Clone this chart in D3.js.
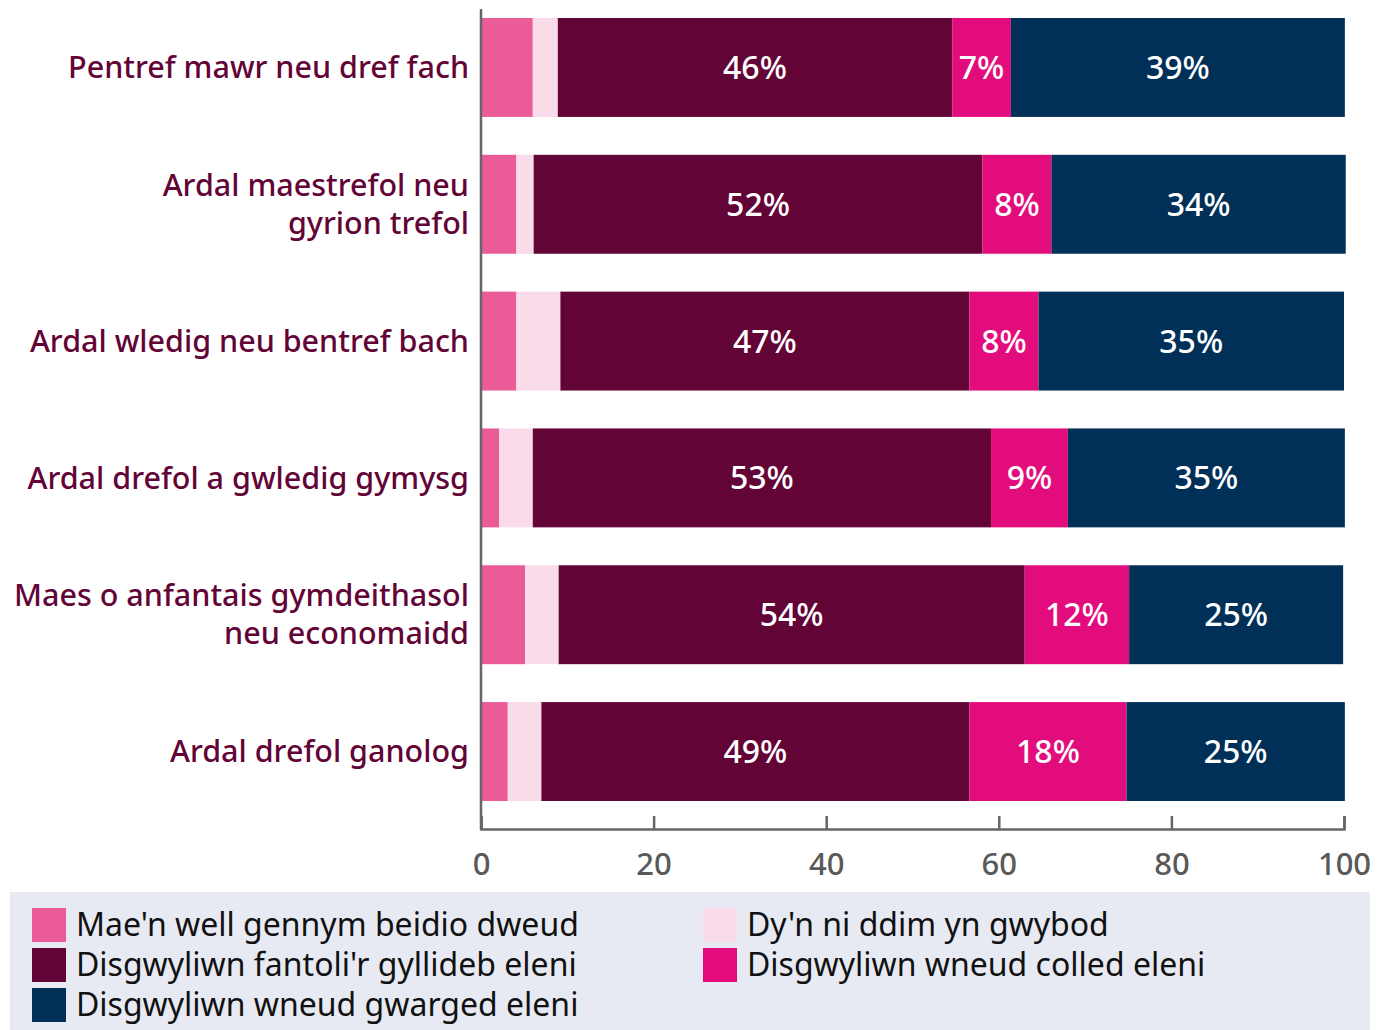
<!DOCTYPE html>
<html lang="cy">
<head>
	<meta charset="utf-8">
	<title>Disgwyliadau cyllideb yn ôl math o ardal</title>
	<script src="https://d3js.org/d3.v7.min.js"></script>
	<style>
		body { margin: 0; background: #fff; }
		text { font-family: "Noto Sans", sans-serif; }
	</style>
</head>
<body>
<div id="chart"></div>
<script>
	// Categories (top to bottom)
	var categories = [
		["Pentref mawr neu dref fach"],
		["Ardal maestrefol neu", "gyrion trefol"],
		["Ardal wledig neu bentref bach"],
		["Ardal drefol a gwledig gymysg"],
		["Maes o anfantais gymdeithasol", "neu economaidd"],
		["Ardal drefol ganolog"]
	];

	// Series values (%)
	var preferNot = [6.0, 4.1, 4.1, 2.1, 5.1, 3.1];
	var dontKnow  = [2.9, 2.0, 5.1, 3.9, 3.9, 3.9];
	var balance   = [45.7, 52.0, 47.4, 53.1, 54.0, 49.6];
	var deficit   = [6.8, 8.0, 8.0, 8.9, 12.1, 18.2];
	var surplus   = [38.7, 34.1, 35.4, 32.1, 24.8, 25.3];

	// Labels printed inside the bars
	var balanceLabels = ["46%", "52%", "47%", "53%", "54%", "49%"];
	var deficitLabels = ["7%", "8%", "8%", "9%", "12%", "18%"];
	var surplusLabels = ["39%", "34%", "35%", "35%", "25%", "25%"];

	var seriesNames = [
		"Mae'n well gennym beidio dweud",
		"Dy'n ni ddim yn gwybod",
		"Disgwyliwn fantoli'r gyllideb eleni",
		"Disgwyliwn wneud colled eleni",
		"Disgwyliwn wneud gwarged eleni"
	];
	var colors = ["#ea5b98", "#f9dbe9", "#630436", "#e30c7d", "#003057"];

	var xTicks = [0, 20, 40, 60, 80, 100];

	var w = 1383, h = 1030;

	var series = [preferNot, dontKnow, balance, deficit, surplus];
	var labels = [null, null, balanceLabels, deficitLabels, surplusLabels];

	var rows = categories.map(function(c, i) {
		var o = { i: i };
		series.forEach(function(s, k) { o["s" + k] = s[i]; });
		return o;
	});
	var keys = series.map(function(s, k) { return "s" + k; });
	var stacked = d3.stack().keys(keys)(rows);

	var x = d3.scaleLinear().domain([0, 100]).range([481, 1344]);
	var y = d3.scaleBand()
		.domain(d3.range(categories.length))
		.range([18, 801])
		.paddingInner(0.277)
		.paddingOuter(0);

	var svg = d3.select("#chart").append("svg")
		.attr("width", w)
		.attr("height", h);

	// bars
	var layer = svg.selectAll("g.layer")
		.data(stacked)
		.enter().append("g")
		.attr("class", "layer")
		.attr("fill", function(d, k) { return colors[k]; });

	layer.selectAll("rect")
		.data(function(d) { return d; })
		.enter().append("rect")
		.attr("x", function(d) { return x(d[0]); })
		.attr("y", function(d) { return y(d.data.i); })
		.attr("width", function(d) { return x(d[1]) - x(d[0]); })
		.attr("height", y.bandwidth());

	// labels inside bars
	layer.filter(function(d, k) { return labels[k]; })
		.selectAll("text")
		.data(function(d) {
			return d.map(function(v, i) { return { v: v, t: labels[d.index][i] }; });
		})
		.enter().append("text")
		.attr("x", function(d) { return (x(d.v[0]) + x(d.v[1])) / 2; })
		.attr("y", function(d) { return y(d.v.data.i) + y.bandwidth() / 2; })
		.attr("dy", "0.36em")
		.attr("text-anchor", "middle")
		.attr("fill", "#fff")
		.attr("font-size", "32px")
		.attr("font-weight", 500)
		.text(function(d) { return d.t; });

	// category labels
	var cat = svg.selectAll("text.cat")
		.data(categories)
		.enter().append("text")
		.attr("class", "cat")
		.attr("text-anchor", "end")
		.attr("fill", "#630436")
		.attr("font-size", "30.5px")
		.attr("font-weight", 500)
		.attr("transform", function(d, i) {
			var cy = y(i) + y.bandwidth() / 2 - (d.length - 1) * 19;
			return "translate(469," + cy + ")";
		});
	cat.selectAll("tspan")
		.data(function(d) { return d; })
		.enter().append("tspan")
		.attr("x", 0)
		.attr("y", function(d, j) { return j * 38; })
		.attr("dy", "0.35em")
		.text(function(d) { return d; });

	// x axis
	var xAxis = svg.append("g")
		.attr("transform", "translate(0,829)")
		.call(d3.axisBottom(x).tickValues(xTicks).tickSizeInner(-13).tickSizeOuter(-13).tickPadding(24));
	xAxis.select(".domain").attr("stroke", "#666").attr("stroke-width", 2.5);
	xAxis.selectAll(".tick line").attr("stroke", "#666").attr("stroke-width", 2.5);
	xAxis.selectAll(".tick text")
		.attr("fill", "#595959")
		.attr("font-size", "31px")
		.attr("font-weight", 500)
		.attr("font-family", "'Noto Sans', sans-serif");

	// y axis line
	svg.append("line")
		.attr("x1", 481).attr("x2", 481)
		.attr("y1", 9).attr("y2", 830)
		.attr("stroke", "#666")
		.attr("stroke-width", 2.5);

	// legend
	svg.append("rect")
		.attr("x", 10).attr("y", 892)
		.attr("width", 1360).attr("height", 138)
		.attr("fill", "#e8eaf3");

	var leg = svg.selectAll("g.leg")
		.data(seriesNames)
		.enter().append("g")
		.attr("class", "leg")
		.attr("transform", function(d, k) {
			var col = k % 2, row = Math.floor(k / 2);
			return "translate(" + (col ? 703 : 32) + "," + (908 + row * 40) + ")";
		});
	leg.append("rect")
		.attr("width", 34).attr("height", 34)
		.attr("fill", function(d, k) { return colors[k]; });
	leg.append("text")
		.attr("x", 44).attr("y", 17)
		.attr("dy", "0.35em")
		.attr("font-size", "32px")
		.attr("fill", "#111")
		.text(function(d) { return d; });
</script>
</body>
</html>
